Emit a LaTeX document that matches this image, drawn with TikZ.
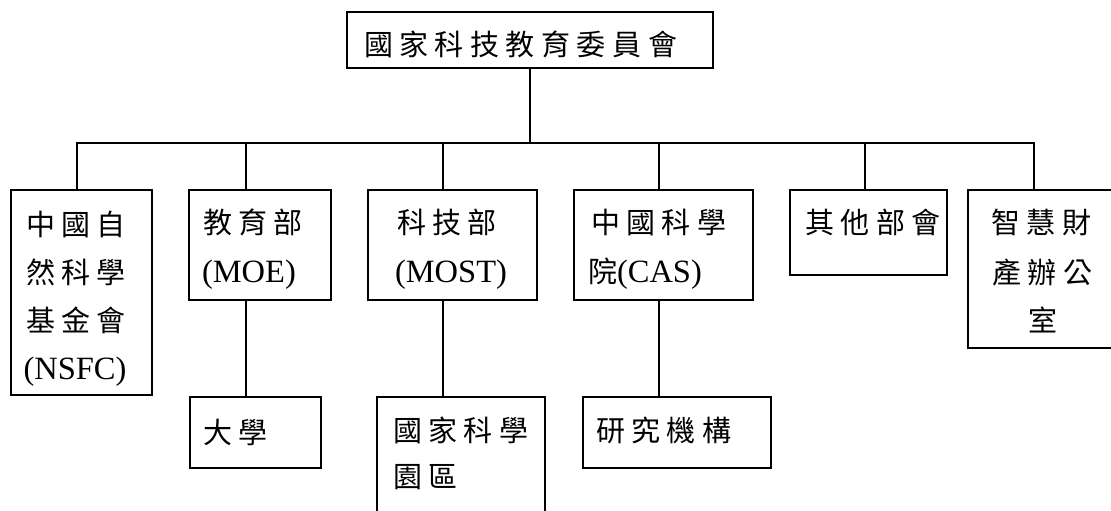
\documentclass[tikz,border=0pt]{standalone}
\usepackage{fontspec}
\setmainfont{Liberation Serif}
\newfontfamily\cjk{Noto Sans CJK TC}
\newlength\cg \setlength\cg{6.5pt}
\def\spcloop#1#2\endspc{#1\ifx\relax#2\relax\else\hspace{\cg}\spcloop#2\endspc\fi}
\newcommand\C[1]{{\cjk\fontsize{29pt}{31pt}\selectfont\spcloop#1\endspc}}
\newcommand\Lt[1]{{\fontsize{32.5pt}{36pt}\selectfont #1}}
\begin{document}
\begin{tikzpicture}[x=1pt,y=-1pt,
  box/.style={draw, line width=2.3pt, inner sep=0pt, outer sep=0pt, anchor=north west},
  lbl/.style={inner sep=0pt, outer sep=0pt, anchor=base west},
  lblc/.style={inner sep=0pt, outer sep=0pt, anchor=base},
  link/.style={line width=2.3pt}]
\clip (0,0) rectangle (1111,511);
\fill[white] (0,0) rectangle (1111,511);
% boxes
\node[box, minimum width=366pt, minimum height=56pt] (top) at (347,12) {};
\node[box, minimum width=141pt, minimum height=205pt] (b1) at (11,190) {};
\node[box, minimum width=142pt, minimum height=110pt] (b2) at (189,190) {};
\node[box, minimum width=169pt, minimum height=110pt] (b3) at (368,190) {};
\node[box, minimum width=179pt, minimum height=110pt] (b4) at (574,190) {};
\node[box, minimum width=157pt, minimum height=85pt] (b5) at (790,190) {};
\node[box, minimum width=148pt, minimum height=158pt] (b6) at (968,190) {};
\node[box, minimum width=131pt, minimum height=71pt] (u1) at (190,397) {};
\node[box, minimum width=168pt, minimum height=140pt] (u2) at (377,397) {};
\node[box, minimum width=188pt, minimum height=71pt] (u3) at (583,397) {};
% texts
\node[lbl] (t0) at (364,56) {\C{國家科技教育委員會}};
\node[lbl] (t1a) at (26,235) {\C{中國自}};
\node[lbl] (t1b) at (26,283) {\C{然科學}};
\node[lbl] (t1c) at (26,331) {\C{基金會}};
\node[lbl] (t1d) at (23.5,379) {\Lt{(NSFC)}};
\node[lbl] (t2a) at (203,233) {\C{教育部}};
\node[lbl] (t2b) at (202,282) {\Lt{(MOE)}};
\node[lblc] (t3a) at (447,233) {\C{科技部}};
\node[lblc] (t3b) at (451,282) {\Lt{(MOST)}};
\node[lbl] (t4a) at (591,233) {\C{中國科學}};
\node[lbl] (t4b) at (588,282) {\C{院}\Lt{(CAS)}};
\node[lbl] (t5a) at (805,233) {\C{其他部會}};
\node[lblc] (t6a) at (1041,233) {\C{智慧財}};
\node[lblc] (t6b) at (1042,283) {\C{產辦公}};
\node[lblc] (t6c) at (1043,331) {\C{室}};
\node[lbl] (s1a) at (203,443) {\C{大學}};
\node[lbl] (s2a) at (393,441) {\C{國家科學}};
\node[lbl] (s2b) at (393,487) {\C{園區}};
\node[lbl] (s3a) at (596,441) {\C{研究機構}};
% connectors
\coordinate (d1) at (77,143);
\coordinate (d2) at (246,143);
\coordinate (d3) at (443,143);
\coordinate (d4) at (659,143);
\coordinate (d5) at (865,143);
\coordinate (d6) at (1034,143);
\draw[link] (top.south) -- (top.south |- d1);
\draw[link] (d1 |- b1.north) -- (d1) -- (d6) -- (d6 |- b6.north);
\draw[link] (d2) -- (d2 |- b2.north);
\draw[link] (d3) -- (d3 |- b3.north);
\draw[link] (d4) -- (d4 |- b4.north);
\draw[link] (d5) -- (d5 |- b5.north);
\draw[link] (b2.south -| d2) -- (u1.north -| d2);
\draw[link] (b3.south -| d3) -- (u2.north -| d3);
\draw[link] (b4.south -| d4) -- (u3.north -| d4);
\end{tikzpicture}
\end{document}
